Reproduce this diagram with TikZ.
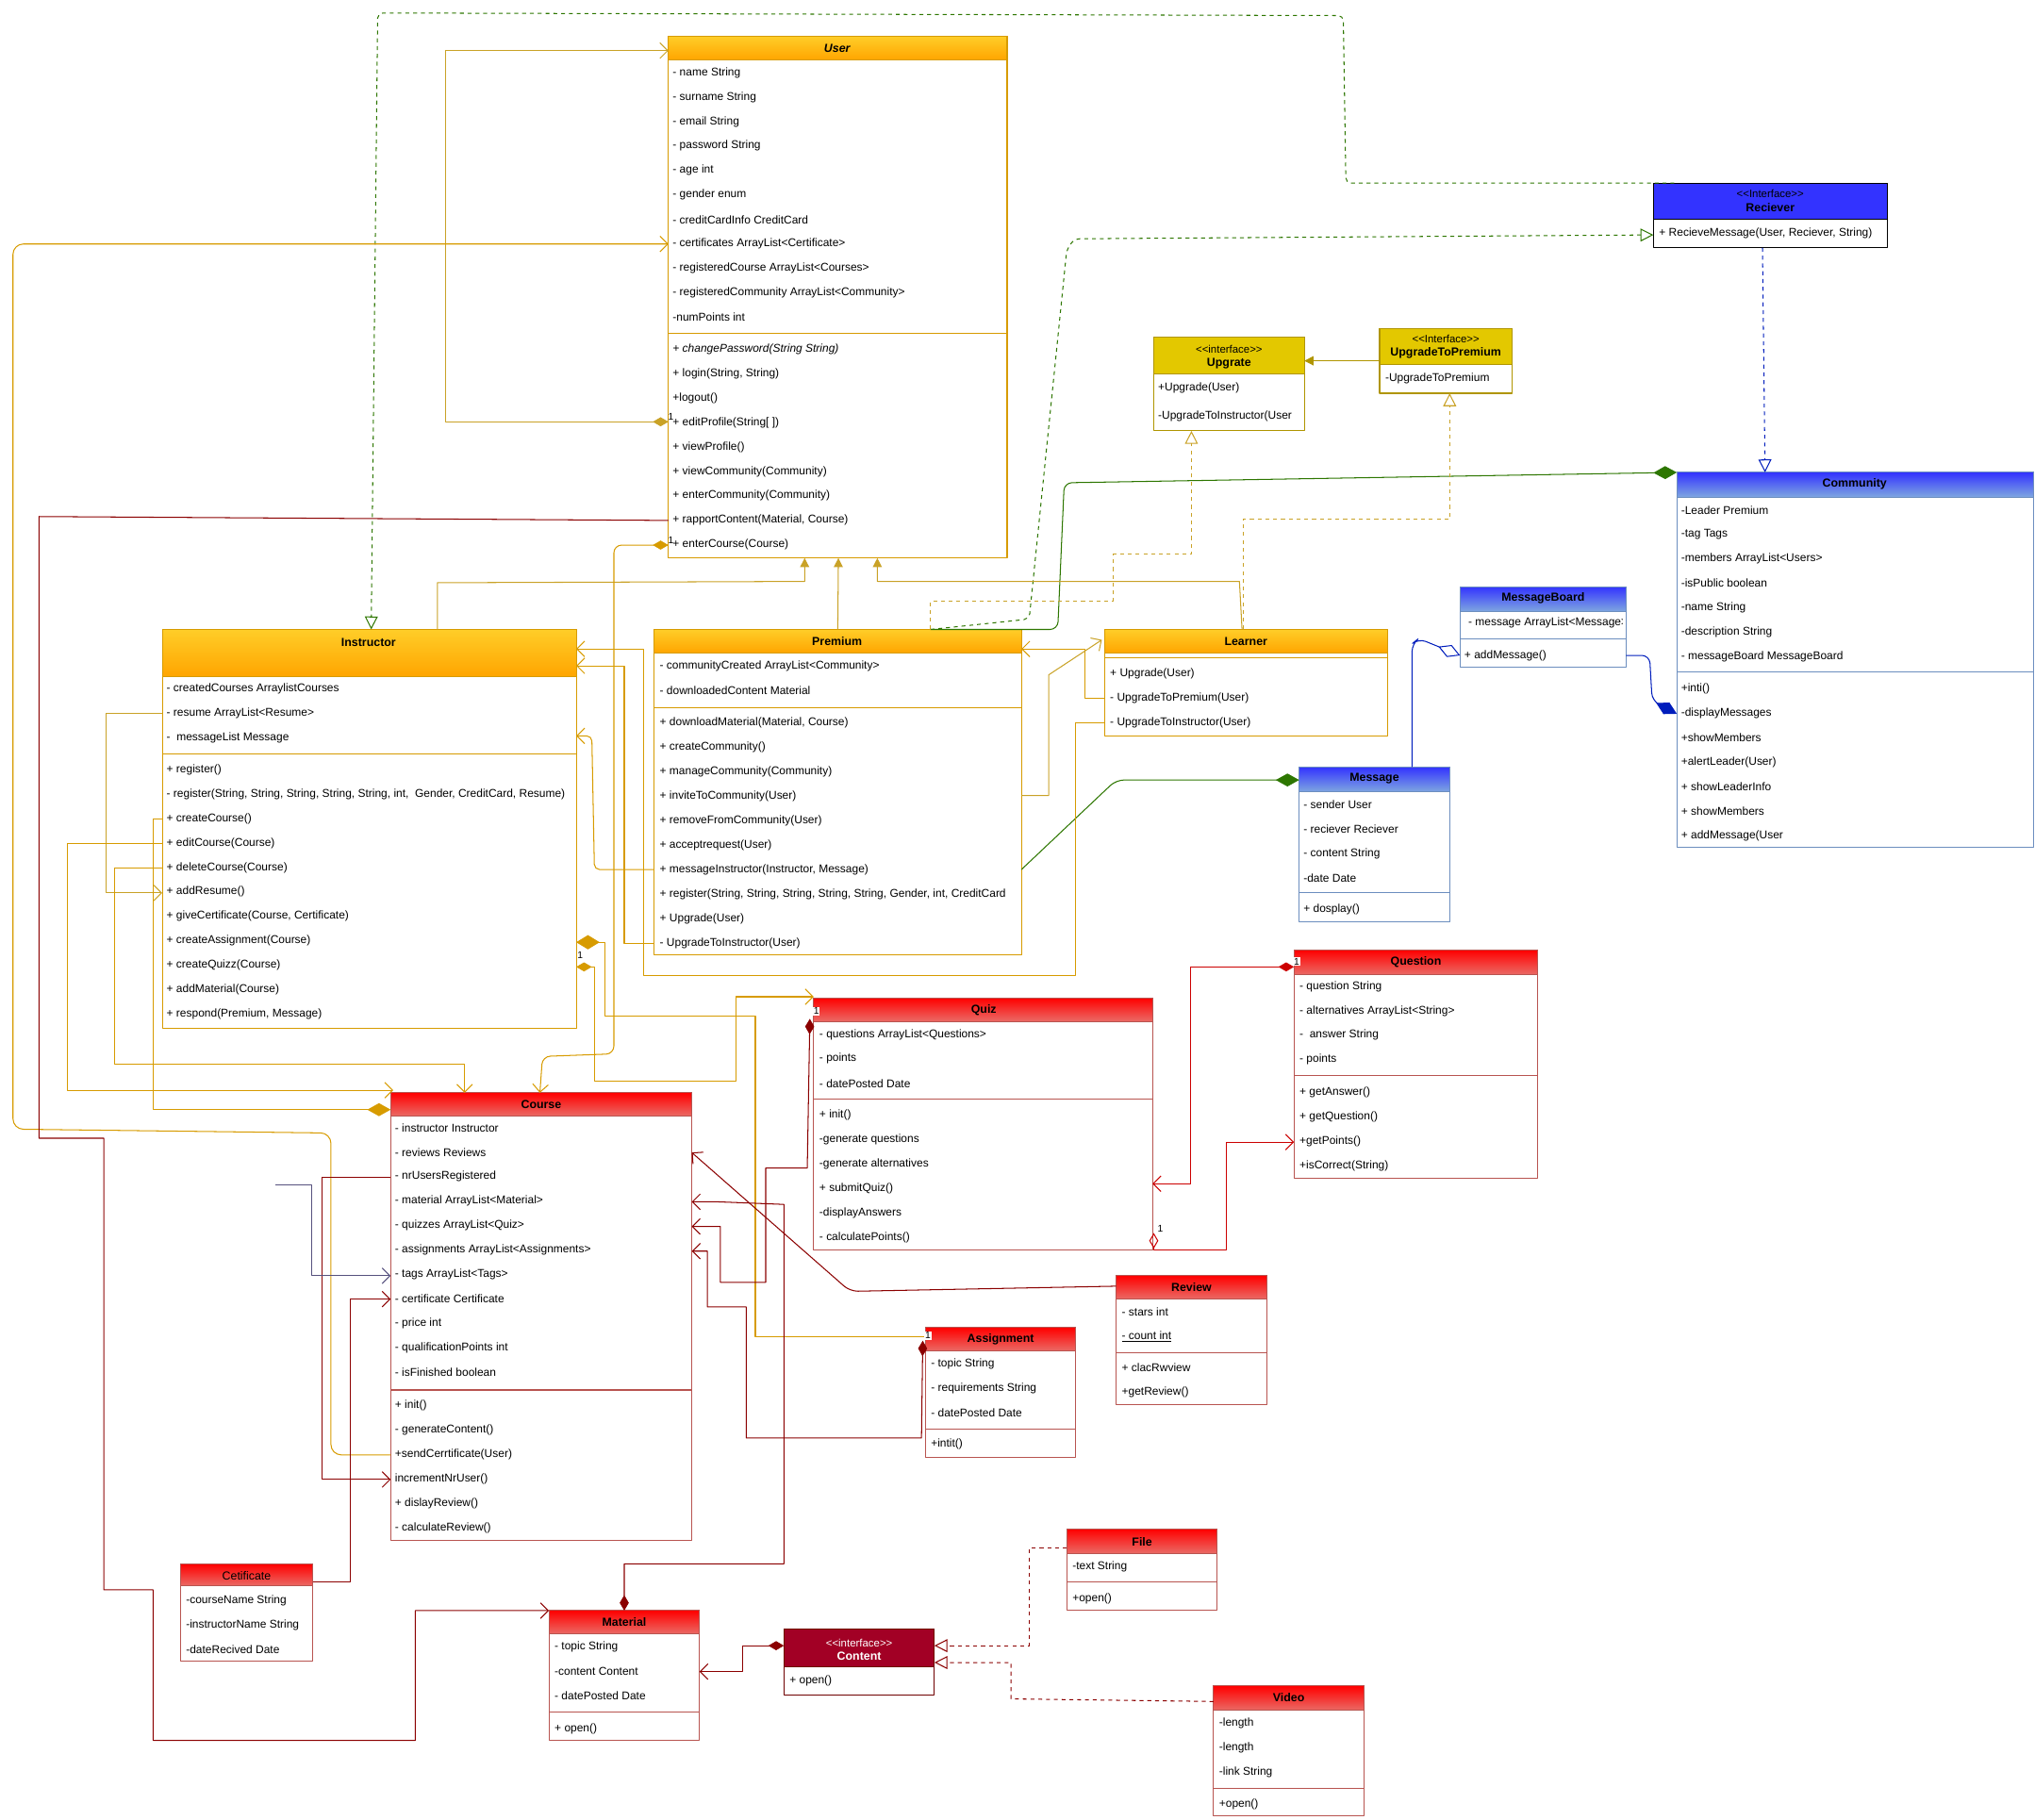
\documentclass[tikz,border=0pt]{standalone}
\usepackage{fontspec}
\setmainfont{Liberation Sans}
\usetikzlibrary{arrows.meta}
\definecolor{orline}{HTML}{D79B00}
\definecolor{goldline}{HTML}{C9A227}
\definecolor{olive}{HTML}{B09500}
\definecolor{redline}{HTML}{B85450}
\definecolor{darkred}{HTML}{8B0000}
\definecolor{brightred}{HTML}{CC0000}
\definecolor{grn}{HTML}{2D7600}
\definecolor{blu}{HTML}{001DBC}
\definecolor{blustroke}{HTML}{6C8EBF}
\definecolor{navy}{HTML}{56517E}
\definecolor{wine}{HTML}{6F0000}
\definecolor{hdtop}{HTML}{FFCD28}
\definecolor{hdbot}{HTML}{FFA500}
\definecolor{recblue}{HTML}{3333FF}
\definecolor{lightblue}{HTML}{7EA6E0}
\definecolor{redtop}{HTML}{FF0000}
\definecolor{redbot}{HTML}{EA6B66}
\definecolor{yel}{HTML}{E3C800}
\definecolor{contentred}{HTML}{A20025}

\tikzset{>=Stealth,
  row/.style={anchor=west, inner sep=0pt, font=\fontsize{8.7}{10}\selectfont},
  ttl/.style={inner sep=0pt, font=\bfseries\fontsize{9}{10}\selectfont},
  ster/.style={inner sep=0pt, font=\fontsize{8.3}{9}\selectfont},
  num/.style={inner sep=0.6pt, fill=white, font=\fontsize{7.5}{8}\selectfont},
  orangehd/.style={top color=hdtop, bottom color=hdbot},
  bluehd/.style={top color=recblue, bottom color=lightblue},
  redhd/.style={top color=redtop, bottom color=redbot},
  yellowhd/.style={fill=yel},
  barb/.style={-{Straight Barb[length=6pt,width=12pt]}},
  tri/.style={-{Triangle[open,length=10pt,width=10pt]}},
  fillt/.style={-{Triangle[length=7pt,width=7pt]}},
  todia/.style={-{Diamond[length=18pt,width=10pt]}},
  todiaopen/.style={-{Diamond[open,length=18pt,width=10pt]}},
  diabarb/.style={{Diamond[length=12pt,width=7pt]}-{Straight Barb[length=6pt,width=12pt]}},
}

% box of a class: name, x1, y1, x2, y2, header bottom, border, header fill
\newcommand{\klass}[8]{%
  \node[draw=#7, fill=white, inner sep=0pt, outer sep=0pt, anchor=north west,
    minimum width={(#4-#2)*1pt}, minimum height={(#5-#3)*1pt}] (#1) at (#2,#3) {};
  \path[#8, draw=#7] (#2,#3) rectangle (#4,#6);}
% rows of text, one every 18.85
\newcommand{\rows}[3]{\foreach \t [count=\i from 0] in {#3} {\node[row] at (#1,{#2+\i*18.85}) {\t};}}
\newcommand{\st}[1]{<{}<#1>{}>}

\begin{document}
\begin{tikzpicture}[x=1pt, y=-1pt, line width=0.75pt, line join=round]
\useasboundingbox (0,0) rectangle (1568,1402);

% User
\klass{User}{515}{28}{776}{430}{46}{orline}{orangehd}
\node[ttl, font=\bfseries\itshape\fontsize{9}{10}\selectfont] at (645,37) {User};
\rows{518}{56}{- name String, - surname String, - email String, - password String, - age int, - gender enum, - creditCardInfo CreditCard, - certificates ArrayList<Certificate>, - registeredCourse ArrayList<Courses>, - registeredCommunity ArrayList<Community>, -numPoints int}
\draw[orline] (515,257) -- (776,257);
\rows{518}{269}{{\itshape + changePassword(String String)}, {+ login(String, String)}, +logout(), + editProfile(String[ ]), + viewProfile(), + viewCommunity(Community), + enterCommunity(Community), {+ rapportContent(Material, Course)}, + enterCourse(Course)}

% Instructor
\klass{Instructor}{125}{485}{444}{792}{521}{orline}{orangehd}
\node[ttl] at (284,495) {Instructor};
\rows{128}{531}{- createdCourses ArraylistCourses, - resume ArrayList<Resume>, -\ \ messageList Message}
\draw[orline] (125,581) -- (444,581);
\rows{128}{593}{+ register(), {- register(String, String, String, String, String, int,\ \ Gender, CreditCard, Resume)}, + createCourse(), + editCourse(Course), + deleteCourse(Course), + addResume(), {+ giveCertificate(Course, Certificate)}, + createAssignment(Course), + createQuizz(Course), + addMaterial(Course), {+ respond(Premium, Message)}}

% Premium
\klass{Premium}{504}{485}{787}{736}{503}{orline}{orangehd}
\node[ttl] at (645,494) {Premium};
\rows{508}{513}{- communityCreated ArrayList<Community>, - downloadedContent Material}
\draw[orline] (504,545) -- (787,545);
\rows{508}{557}{{+ downloadMaterial(Material, Course)}, + createCommunity(), + manageCommunity(Community), + inviteToCommunity(User), + removeFromCommunity(User), + acceptrequest(User), {+ messageInstructor(Instructor, Message)}, {+ register(String, String, String, String, String, Gender, int, CreditCard}, + Upgrade(User), - UpgradeToInstructor(User)}

% Learner
\klass{Learner}{851}{485}{1069}{567}{503}{orline}{orangehd}
\node[ttl] at (960,494) {Learner};
\draw[orline] (851,507) -- (1069,507);
\rows{855}{519}{+ Upgrade(User), - UpgradeToPremium(User), - UpgradeToInstructor(User)}

% Upgrate
\klass{Upgrate}{889}{260}{1005}{332}{288}{olive}{yellowhd}
\node[ster] at (947,269) {\st{interface}};
\node[ttl] at (947,280) {Upgrate};
\node[row] at (892,299) {+Upgrade(User)};
\node[row] at (892,321) {-UpgradeToInstructor(User};

% UpgradeToPremium
\klass{UpToPrem}{1063}{253}{1165}{303}{281}{olive}{yellowhd}
\node[ster] at (1114,261) {\st{Interface}};
\node[ttl] at (1114,272) {UpgradeToPremium};
\node[row] at (1067,292) {-UpgradeToPremium};

% Reciever
\klass{Reciever}{1274}{141}{1454}{191}{169}{black}{fill=recblue}
\node[ster] at (1364,149) {\st{Interface}};
\node[ttl] at (1364,160) {Reciever};
\node[row] at (1278,180) {+ RecieveMessage(User, Reciever, String)};

% Community
\klass{Community}{1292}{364}{1567}{653}{383}{blustroke}{bluehd}
\node[ttl] at (1429,373) {Community};
\rows{1295}{393}{-Leader Premium, -tag Tags, -members ArrayList<Users>, -isPublic boolean, -name String, -description String, - messageBoard MessageBoard}
\draw[blustroke] (1292,518) -- (1567,518);
\rows{1295}{531}{+inti(), -displayMessages, +showMembers, +alertLeader(User), + showLeaderInfo, + showMembers, + addMessage(User}

% MessageBoard
\klass{MessageBoard}{1125}{452}{1253}{514}{471}{blustroke}{bluehd}
\node[ttl] at (1189,461) {MessageBoard};
\begin{scope}
\clip (1125,471) rectangle (1250,492);
\node[row] at (1131,480) {- message ArrayList<Message>};
\end{scope}
\draw[blustroke] (1125,492) -- (1253,492);
\node[row] at (1128,505) {+ addMessage()};

% Message
\klass{Message}{1001}{591}{1117}{710}{610}{blustroke}{bluehd}
\node[ttl] at (1059,600) {Message};
\rows{1004}{620}{- sender User, - reciever Reciever, - content String, -date Date}
\draw[blustroke] (1001,688) -- (1117,688);
\node[row] at (1004,701) {+ dosplay()};

% Course
\klass{Course}{301}{842}{533}{1187}{860}{redline}{redhd}
\node[ttl] at (417,851) {Course};
\rows{304}{869}{- instructor Instructor, - reviews Reviews, - nrUsersRegistered, - material ArrayList<Material>, - quizzes ArrayList<Quiz>, - assignments ArrayList<Assignments>, - tags ArrayList<Tags>, - certificate Certificate, - price int, - qualificationPoints int, - isFinished boolean}
\draw[redline] (301,1071) -- (533,1071);
\rows{304}{1083}{+ init(), - generateContent(), +sendCerrtificate(User), incrementNrUser(), + dislayReview(), - calculateReview()}

% Quiz
\klass{Quiz}{627}{769}{888}{963}{787}{redline}{redhd}
\node[ttl] at (758,778) {Quiz};
\rows{631}{797}{- questions ArrayList<Questions>, - points, - datePosted Date}
\draw[redline] (627,847) -- (888,847);
\rows{631}{859}{+ init(), -generate questions, -generate alternatives, + submitQuiz(), -displayAnswers, - calculatePoints()}

% Question
\klass{Question}{997}{732}{1185}{908}{751}{redline}{redhd}
\node[ttl] at (1091,741) {Question};
\rows{1001}{760}{- question String, - alternatives ArrayList<String>, -\ \ answer String, - points}
\draw[redline] (997,829) -- (1185,829);
\rows{1001}{842}{+ getAnswer(), + getQuestion(), +getPoints(), +isCorrect(String)}

% Review
\klass{Review}{860}{983}{976}{1082}{1001}{redline}{redhd}
\node[ttl] at (918,992) {Review};
\rows{864}{1011}{- stars int, \underline{- count int}}
\draw[redline] (860,1042) -- (976,1042);
\rows{864}{1054}{+ clacRwview, +getReview()}

% Assignment
\klass{Assignment}{713}{1023}{829}{1123}{1041}{redline}{redhd}
\node[ttl] at (771,1032) {Assignment};
\rows{717}{1051}{- topic String, - requirements String, - datePosted Date}
\draw[redline] (713,1101) -- (829,1101);
\node[row] at (717,1113) {+intit()};

% Cetificate
\klass{Cetificate}{139}{1205}{241}{1280}{1222}{redline}{redhd}
\node[ttl, font=\fontsize{9}{10}\selectfont] at (190,1214) {Cetificate};
\rows{143}{1233}{-courseName String, -instructorName String, -dateRecived Date}

% Material
\klass{Material}{423}{1241}{539}{1341}{1259}{redline}{redhd}
\node[ttl] at (481,1250) {Material};
\rows{427}{1269}{- topic String, -content Content, - datePosted Date}
\draw[redline] (423,1319) -- (539,1319);
\node[row] at (427,1332) {+ open()};

% Content
\klass{Content}{604}{1255}{720}{1306}{1284}{wine}{fill=contentred}
\node[ster, text=white] at (662,1266) {\st{interface}};
\node[ttl, text=white] at (662,1276) {Content};
\node[row] at (608,1295) {+ open()};

% File
\klass{File}{822}{1178}{938}{1241}{1197}{redline}{redhd}
\node[ttl] at (880,1188) {File};
\node[row] at (826,1207) {-text String};
\draw[redline] (822,1219) -- (938,1219);
\node[row] at (826,1232) {+open()};

% Video
\klass{Video}{935}{1299}{1051}{1399}{1318}{redline}{redhd}
\node[ttl] at (993,1308) {Video};
\rows{939}{1328}{-length, -length, -link String}
\draw[redline] (935,1378) -- (1051,1378);
\node[row] at (939,1390) {+open()};

% connectors
\draw[grn, dashed, tri, rounded corners=4] (1290,141) -- (1037,141) -- (1035,12) -- (291,10) -- (286,485);
\draw[grn, dashed, tri, rounded corners=4] (717,485) -- (793,477) -- (822,192) -- (828,184) -- (1274,181);
\draw[blu, dashed, tri] (1358,191) -- (1360,364);
\draw[grn, todia, rounded corners=6] (717,485) -- (815,485) -- (820,372) -- (1292,364);
\draw[grn, todia, rounded corners=6] (787,670) -- (860,601) -- (1001,601);
\draw[blu, todiaopen, rounded corners=6] (1088,591) -- (1088,496) -- (1093,492) -- (1125,505);
\draw[blu, todia, rounded corners=6] (1253,505) -- (1271,505) -- (1273,540) -- (1292,550);
\draw[olive, fillt] (1063,278) -- (1005,278);
\draw[goldline, dashed, tri] (717,485) -- (717,463) -- (858,463) -- (858,427) -- (918,427) -- (918,332);
\draw[goldline, dashed, tri] (958,485) -- (958,400) -- (1117,400) -- (1117,303);
\draw[goldline, fillt] (Premium.north) -- (646,430);
\draw[goldline, fillt] (337,485) -- (337,449) -- (620,448) -- (620,430);
\draw[goldline, fillt] (957,485) -- (955,448) -- (676,448) -- (676,430);
\draw[orline, barb, rounded corners=4] (504,670) -- (458,670) -- (456,567) -- (444,567);
\draw[orline, barb] (504,727) -- (481,727) -- (481,513) -- (444,513);
\draw[orline, barb] (851,557) -- (829,557) -- (829,752) -- (496,752) -- (496,500) -- (444,500);
\draw[orline, barb] (851,538) -- (836,538) -- (836,500) -- (787,500);
\draw[goldline, barb] (787,613) -- (808,613) -- (808,520) -- (849,493);
\draw[goldline, diabarb] (515,325) -- (343,325) -- (343,39) -- (515,39);
\draw[orline, barb, rounded corners=8] (301,1121) -- (255,1121) -- (255,873) -- (10,870) -- (10,188) -- (515,188);
\draw[orline, diabarb, rounded corners=6] (515,420) -- (473,420) -- (473,812) -- (418,814) -- (416,842);
\draw[darkred, barb] (515,401) -- (30,398) -- (30,877) -- (80,877) -- (80,1225) -- (118,1225) -- (118,1341) -- (320,1341) -- (320,1241) -- (423,1241);
\draw[darkred, barb] (301,907) -- (248,907) -- (248,1140) -- (301,1140);
\draw[navy, barb] (212,913) -- (240,913) -- (240,983) -- (301,983);
\draw[darkred, barb] (241,1219) -- (270,1219) -- (270,1001) -- (301,1001);
\draw[goldline, barb] (125,550) -- (82,550) -- (82,688) -- (125,688);
\draw[orline, todia] (125,631) -- (118,631) -- (118,855) -- (301,855);
\draw[orline, barb] (125,650) -- (52,650) -- (52,840) -- (303,840);
\draw[orline, barb] (125,669) -- (88,669) -- (88,820) -- (358,820) -- (358,842);
\draw[orline, {Diamond[length=18pt,width=11pt]}-] (444,726) -- (466,726) -- (466,783) -- (582,783) -- (582,1030) -- (713,1030);
\draw[orline, diabarb] (444,745) -- (458,745) -- (458,833) -- (567,833) -- (567,768) -- (627,768);
\draw[darkred, diabarb] (624,785) -- (622,900) -- (590,900) -- (590,988) -- (555,988) -- (555,945) -- (533,945);
\draw[darkred, diabarb] (711,1033) -- (710,1108) -- (575,1108) -- (575,1007) -- (545,1007) -- (545,964) -- (533,964);
\draw[darkred, diabarb] (481,1241) -- (481,1205) -- (604,1205) -- (604,928) -- (553,926) -- (533,926);
\draw[darkred, barb, rounded corners=6] (860,991) -- (655,995) -- (533,888);
\draw[brightred, diabarb] (997,745) -- (917,745) -- (917,912) -- (888,912);
\draw[brightred, {Diamond[open,length=12pt,width=7pt]}-{Straight Barb[length=6pt,width=12pt]}] (889,950) -- (889,963) -- (945,963) -- (945,880) -- (997,880);
\draw[darkred, diabarb] (604,1268) -- (572,1268) -- (572,1288) -- (539,1288);
\draw[darkred, dashed, tri] (822,1193) -- (793,1193) -- (793,1268) -- (720,1268);
\draw[darkred, dashed, tri] (935,1311) -- (779,1309) -- (779,1281) -- (720,1281);

% multiplicities
\node[num, fill=none] at (517,321) {1};
\node[num, fill=none] at (517,416) {1};
\node[num, fill=none] at (447,736) {1};
\node[num] at (629,779) {1};
\node[num] at (999,741) {1};
\node[num] at (715,1029) {1};
\node[num, fill=none] at (894,947) {1};
\end{tikzpicture}
\end{document}
